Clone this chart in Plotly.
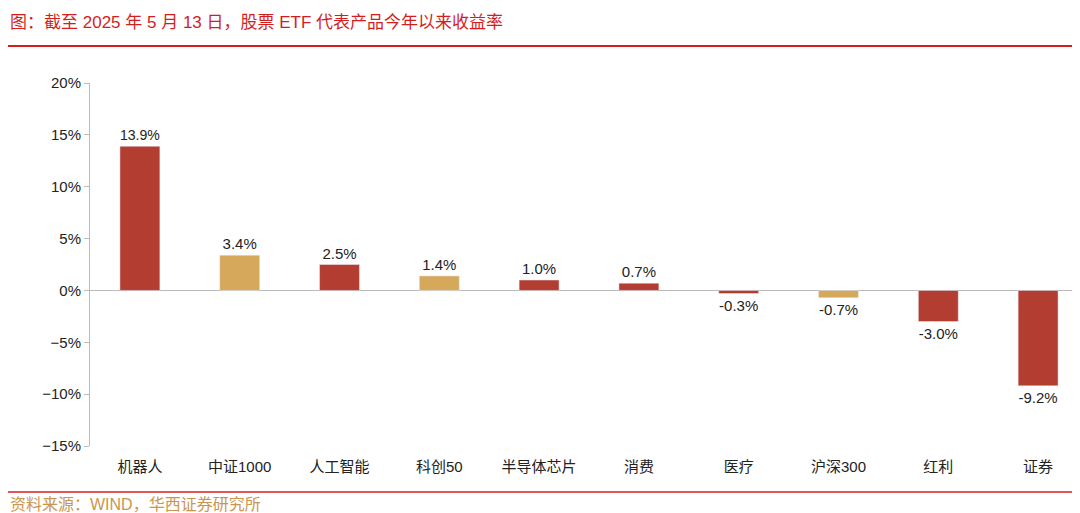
import plotly.graph_objects as go

categories = ["机器人", "中证1000", "人工智能", "科创50", "半导体芯片", "消费", "医疗", "沪深300", "红利", "证券"]
values = [13.9, 3.4, 2.5, 1.4, 1.0, 0.7, -0.3, -0.7, -3.0, -9.2]
kinds = ["etf", "index", "etf", "index", "etf", "etf", "etf", "index", "etf", "etf"]
colors = ["#B33D30" if k == "etf" else "#D5A85C" for k in kinds]
labels = [f"{v:.1f}%" for v in values]

H = 513 - 150
def py(p):  # pixel from top -> paper y
    return (438 - p) / H

fig = go.Figure(go.Bar(
    x=categories, y=values, marker_color=colors, width=0.4,
    text=labels, textposition="outside", cliponaxis=False,
    textfont=dict(size=15, color="#222", family="Liberation Sans, Noto Sans CJK SC"),
))
fig.update_layout(
    width=1080, height=513, margin=dict(l=82, r=0, t=75, b=75),
    paper_bgcolor="white", plot_bgcolor="white", showlegend=False,
    font=dict(family="Liberation Sans, Noto Sans CJK SC", size=15, color="#222"),
)
fig.update_yaxes(range=[-15, 20], dtick=5, ticksuffix="%", showgrid=False,
                 showline=True, linecolor="#BBBBBB", ticks="outside", ticklen=5,
                 tickcolor="#BBBBBB", zeroline=True, zerolinecolor="#BBBBBB", zerolinewidth=1,
                 tickfont=dict(size=15))
fig.update_xaxes(showgrid=False, showline=False, ticks="", tickfont=dict(size=15),
                 anchor="free", position=0, ticklabelstandoff=10)
x0 = -82 / 998
fig.add_annotation(text="图：截至 2025 年 5 月 13 日，股票 ETF 代表产品今年以来收益率", xref="paper", yref="paper",
                   x=x0, y=py(3), xanchor="left", yanchor="top", showarrow=False,
                   font=dict(size=17, color="#D41E1E"))
fig.add_shape(type="line", xref="paper", yref="paper", x0=x0, x1=1, y0=py(38), y1=py(38),
              line=dict(color="#D41E1E", width=2))
fig.add_shape(type="line", xref="paper", yref="paper", x0=x0, x1=1, y0=py(484), y1=py(484),
              line=dict(color="#D41E1E", width=1.5))
fig.add_annotation(text="资料来源：WIND，华西证券研究所", xref="paper", yref="paper",
                   x=x0, y=py(486), xanchor="left", yanchor="top", showarrow=False,
                   font=dict(size=16, color="#C9964E"))
fig.write_html("out.html")
